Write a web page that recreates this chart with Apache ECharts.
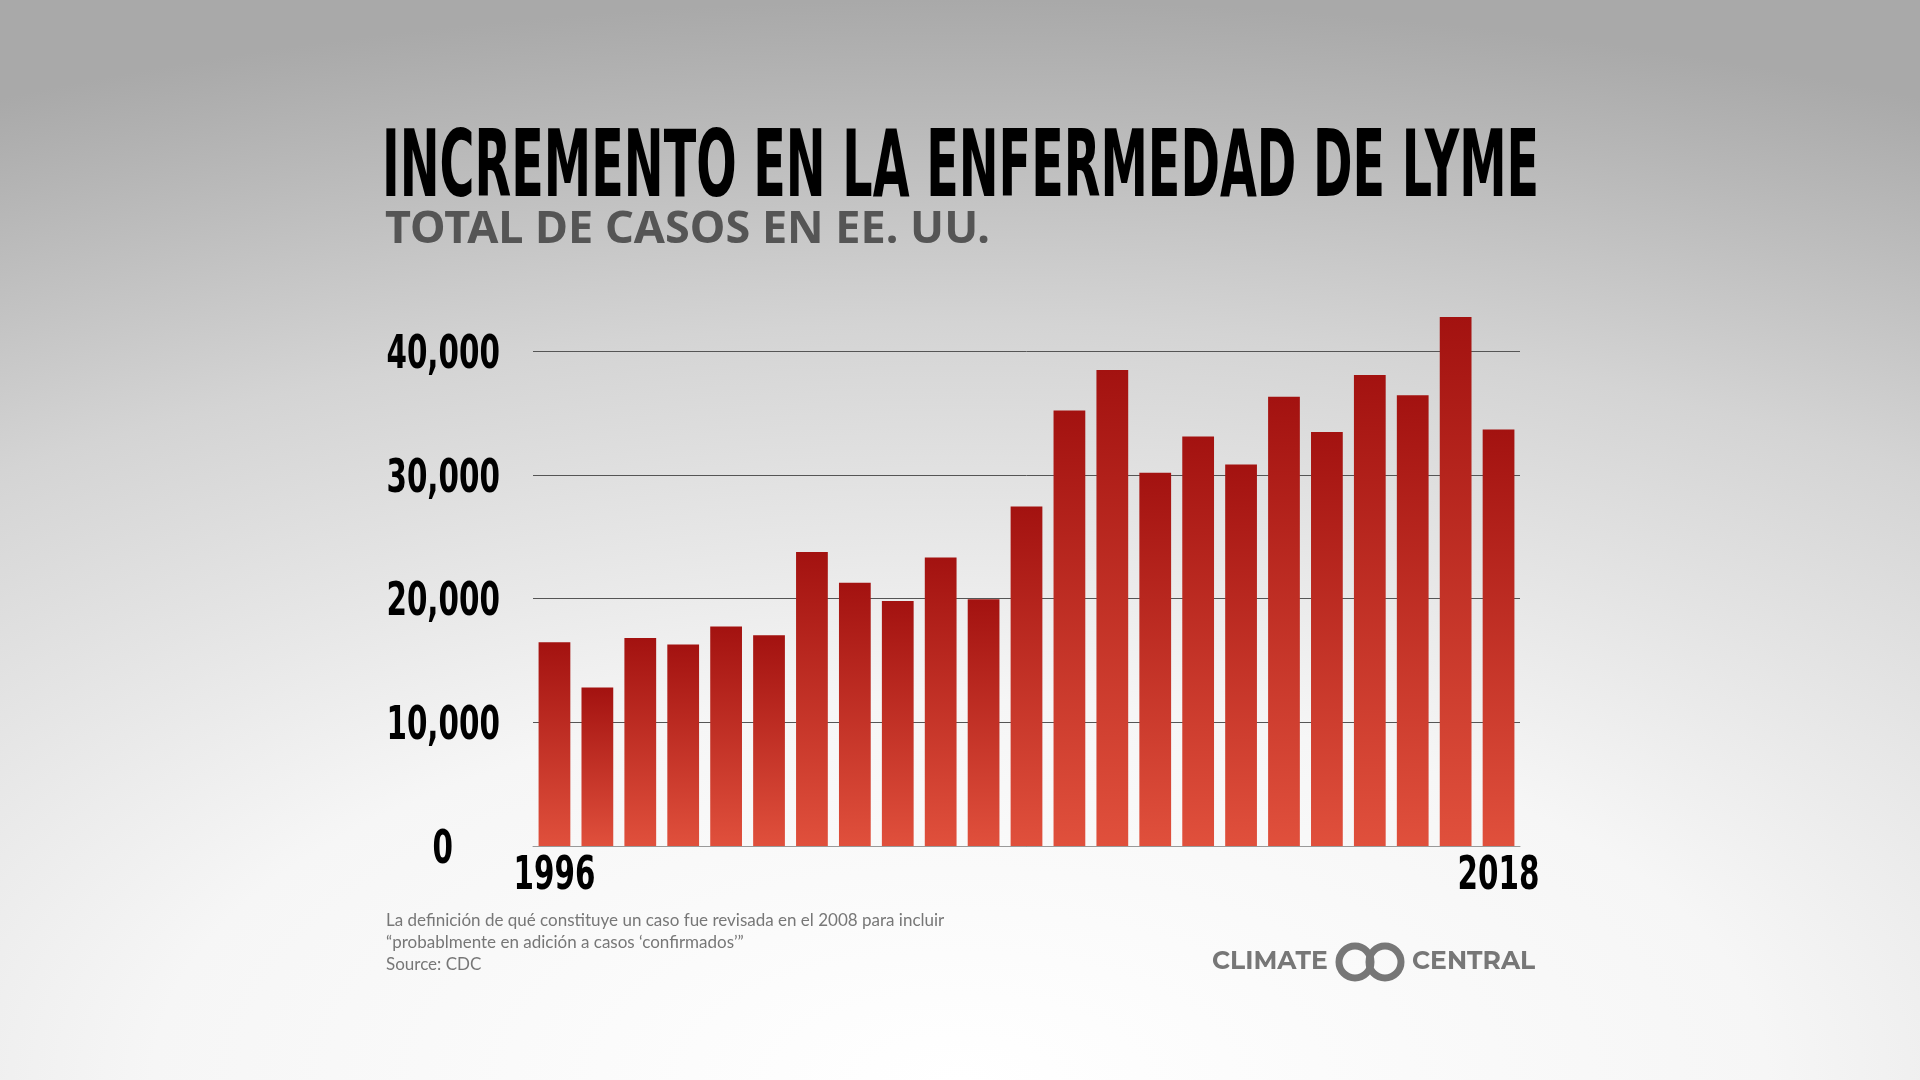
<!DOCTYPE html>
<html><head><meta charset="utf-8">
<script src="https://cdn.jsdelivr.net/npm/echarts@6/dist/echarts.min.js"></script>
<style>
html,body{margin:0;padding:0;width:1920px;height:1080px;overflow:hidden;
background:radial-gradient(ellipse 120% 100% at 50% 100%, #ffffff 0%, #f6f6f6 35%, #d4d4d4 70%, #a9a9a9 100%);}
#c{width:1920px;height:1080px;}
</style></head><body><div id="c"></div>
<script>
const years = ['1996','1997','1998','1999','2000','2001','2002','2003','2004','2005','2006','2007','2008','2009','2010','2011','2012','2013','2014','2015','2016','2017','2018'];
const cases = [16455,12801,16801,16273,17730,17029,23763,21273,19804,23305,19931,27444,35198,38468,30158,33097,30831,36307,33461,38069,36429,42743,33666];
const yTicks = [0,10000,20000,30000,40000];
const xShown = ['1996','2018'];
const title = 'INCREMENTO EN LA ENFERMEDAD DE LYME';
const subtitle = 'TOTAL DE CASOS EN EE. UU.';
const notes = ['La definición de qué constituye un caso fue revisada en el 2008 para incluir','“probablmente en adición a casos ‘confirmados’”','Source: CDC'];

const chart = echarts.init(document.getElementById('c'));
chart.setOption({
  backgroundColor:'transparent',
  animation:false,
  grid:{left:533,right:400,top:351,bottom:234},
  xAxis:{type:'category',data:years,
    axisLine:{show:true,lineStyle:{color:'#999',width:1}},axisTick:{show:false},axisLabel:{show:false}},
  yAxis:{type:'value',min:0,max:40000,interval:10000,
    axisLine:{show:false},axisTick:{show:false},axisLabel:{show:false},
    splitLine:{lineStyle:{color:'#555',width:1}}},
  series:[{type:'bar',data:cases,barCategoryGap:'26%',clip:false,
    itemStyle:{color:{type:'linear',x:0,y:0,x2:0,y2:1,colorStops:[{offset:0,color:'#a31210'},{offset:1,color:'#e0503c'}]}}}]
});
const lblFont = 'bold 46px "DejaVu Sans",sans-serif';
const g = [
  {type:'text',x:382,y:126,scaleX:0.518,style:{text:title,font:'bold 92px "DejaVu Sans",sans-serif',fill:'#000'}},
  {type:'text',left:385,top:208,style:{text:subtitle,font:'bold 45px "Noto Sans",sans-serif',fill:'#555'}},
  {type:'text',left:386,top:910,style:{text:notes.join('\n'),font:'17px Lato,"Noto Sans",sans-serif',fill:'#777',lineHeight:22}},
  {type:'text',left:1212,top:949,style:{text:'CLIMATE',font:'bold 25px Montserrat,"Noto Sans",sans-serif',fill:'#777'}},
  {type:'circle',shape:{cx:1355,cy:962,r:16},style:{fill:'none',stroke:'#777',lineWidth:7}},
  {type:'circle',shape:{cx:1385,cy:962,r:16},style:{fill:'none',stroke:'#777',lineWidth:7}},
  {type:'text',left:1412,top:949,style:{text:'CENTRAL',font:'bold 25px Montserrat,"Noto Sans",sans-serif',fill:'#777'}}
];
yTicks.forEach(v=>{
  const p = chart.convertToPixel({gridIndex:0},[0,v]);
  g.push({type:'text',x:v===0?453:500,y:p[1]+5,scaleX:0.64,style:{text:v.toLocaleString('en-US'),font:lblFont,fill:'#000',align:'right',verticalAlign:'middle'}});
});
xShown.forEach(yr=>{
  const p = chart.convertToPixel({gridIndex:0},[yr,0]);
  g.push({type:'text',x:p[0],y:877,scaleX:0.64,style:{text:yr,font:lblFont,fill:'#000',align:'center',verticalAlign:'middle'}});
});
chart.setOption({graphic:g});
</script></body></html>
